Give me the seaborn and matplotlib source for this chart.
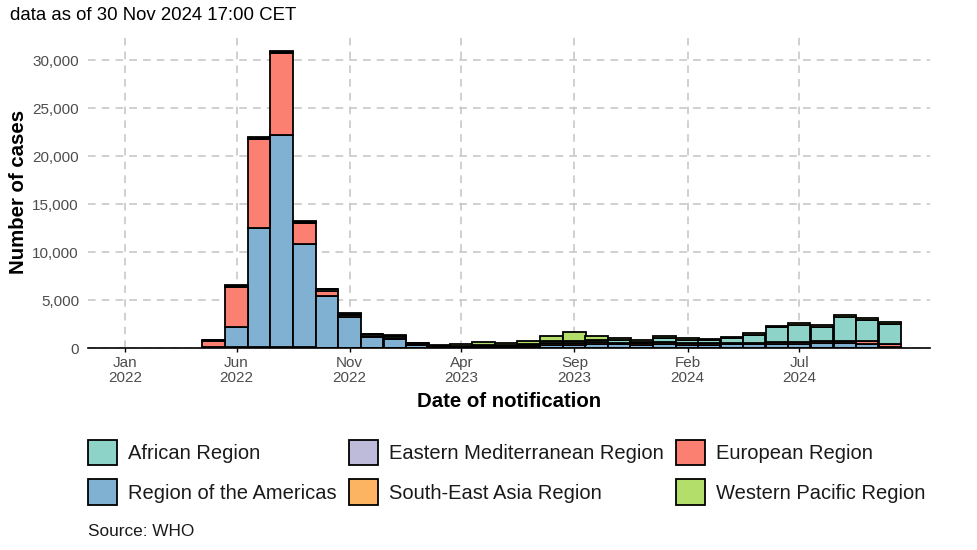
import seaborn as sns
import matplotlib.pyplot as plt
import matplotlib.dates as mdates
from matplotlib.patches import Patch
from matplotlib.ticker import FuncFormatter
import pandas as pd

# monthly notified cases, May 2022 - Nov 2024
months = pd.date_range('2022-05-01', '2024-11-01', freq='MS')

americas = [100, 2100, 12470, 22080, 10800, 5340, 3190, 1130, 930, 310, 120, 100, 120, 110, 150,
            250, 250, 350, 350, 300, 420, 320, 300, 350, 400, 400, 380, 500, 450, 420, 120]
european = [600, 4170, 9200, 8540, 2120, 560, 200, 120, 100, 60, 40, 60, 100, 90, 130,
            250, 200, 250, 200, 150, 200, 180, 150, 150, 150, 170, 200, 250, 250, 250, 280]
african = [60, 120, 120, 180, 160, 150, 120, 130, 150, 90, 60, 70, 90, 80, 100,
           250, 300, 250, 250, 200, 350, 350, 330, 520, 830, 1560, 1820, 1440, 2490, 2250, 2100]
w_pacific = [20, 60, 70, 90, 80, 80, 70, 90, 140, 80, 90, 140, 270, 200, 340,
             500, 850, 400, 250, 160, 260, 200, 140, 140, 130, 140, 150, 180, 230, 220, 220]
e_mediterranean = [30, 70, 40, 50, 40, 30, 20, 20, 10, 5, 5, 5, 5, 5, 5,
                   15, 15, 15, 10, 10, 10, 10, 10, 10, 10, 10, 10, 20, 10, 10, 10]
se_asia = [0, 40, 40, 30, 30, 20, 10, 10, 10, 5, 5, 5, 5, 5, 5,
           15, 15, 15, 10, 10, 10, 10, 10, 10, 10, 10, 10, 10, 10, 10, 10]

region_names = ['African Region', 'Eastern Mediterranean Region', 'European Region',
                'Region of the Americas', 'South-East Asia Region', 'Western Pacific Region']
set3 = sns.color_palette('Set3', 7)
region_colors = dict(zip(region_names, [set3[0], set3[2], set3[3], set3[4], set3[5], set3[6]]))

df = pd.DataFrame({'month': months,
                   'South-East Asia Region': se_asia,
                   'Eastern Mediterranean Region': e_mediterranean,
                   'Region of the Americas': americas,
                   'European Region': european,
                   'African Region': african,
                   'Western Pacific Region': w_pacific})
stack_order = ['South-East Asia Region', 'Eastern Mediterranean Region', 'Region of the Americas',
               'European Region', 'African Region', 'Western Pacific Region']

sns.set_theme(style='white')
plt.rcParams['font.family'] = ['Liberation Sans', 'DejaVu Sans']

fig = plt.figure(figsize=(9.78, 5.5), dpi=100)
ax = fig.add_axes([88 / 978, 1 - 348 / 550, 842 / 978, 312 / 550])

bottom = [0] * len(df)
for reg in stack_order:
    ax.bar(df['month'], df[reg], width=30.4, bottom=bottom, color=region_colors[reg],
           edgecolor='black', linewidth=1.3, zorder=3)
    bottom = [b + v for b, v in zip(bottom, df[reg])]

ax.set_ylim(0, 32500)
ax.set_xlim(pd.Timestamp('2021-11-12'), pd.Timestamp('2024-12-25'))
ax.set_xticks(pd.to_datetime(['2022-01-01', '2022-06-01', '2022-11-01', '2023-04-01',
                              '2023-09-01', '2024-02-01', '2024-07-01']))
ax.xaxis.set_major_formatter(mdates.DateFormatter('%b\n%Y'))
ax.set_yticks([0, 5000, 10000, 15000, 20000, 25000, 30000])
ax.yaxis.set_major_formatter(FuncFormatter(lambda v, p: f'{int(v):,}'))

ax.grid(True, color='#c4c4c4', linestyle=(0, (5, 4)), linewidth=1.1, zorder=0)
for s in ['top', 'right', 'left']:
    ax.spines[s].set_visible(False)
ax.spines['bottom'].set_color('black')
ax.spines['bottom'].set_linewidth(1.2)
ax.spines['bottom'].set_zorder(4)
ax.tick_params(axis='x', bottom=True, length=3, width=1, color='black', labelsize=11,
               labelcolor='#4d4d4d', pad=3)
ax.tick_params(axis='y', left=False, length=0, labelsize=11, labelcolor='#4d4d4d', pad=6.5)
plt.setp(ax.get_xticklabels(), linespacing=1.1)

ax.set_xlabel('Date of notification', fontsize=14.7, fontweight='bold', color='black', labelpad=5)
ax.set_ylabel('Number of cases', fontsize=14.7, fontweight='bold', color='black', labelpad=3)

fig.text(10 / 978, 1 - 16 / 550, 'data as of 30 Nov 2024 17:00 CET', fontsize=13.4,
         va='center', ha='left', color='black')
fig.text(88 / 978, 1 - 531 / 550, 'Source: WHO', fontsize=12.4, va='center', ha='left',
         color='#1a1a1a')

# legend filled row by row in the reference, matplotlib fills by column
col_order = [0, 3, 1, 4, 2, 5]
handles = [Patch(facecolor=region_colors[region_names[i]], edgecolor='black', linewidth=1.3)
           for i in col_order]
labels = [region_names[i] for i in col_order]
leg = fig.legend(handles, labels, ncol=3, loc='upper left',
                 bbox_to_anchor=(88 / 978, 1 - 440 / 550),
                 frameon=False, fontsize=14.5, handlelength=1.44, handleheight=1.55,
                 handletextpad=0.55, columnspacing=0.6, labelspacing=0.7, borderpad=0,
                 borderaxespad=0)
for t in leg.get_texts():
    t.set_color('#1a1a1a')

fig.savefig('out.png', dpi=100)
